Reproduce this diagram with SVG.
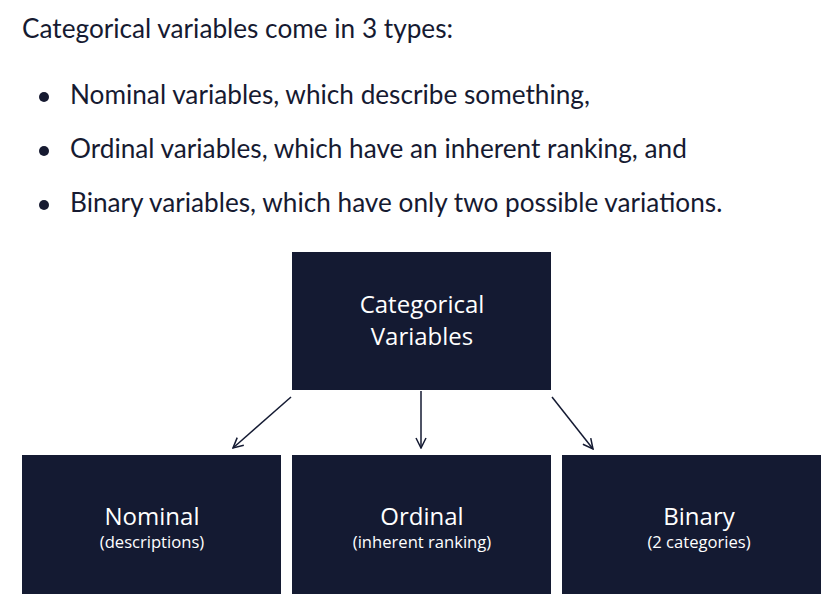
<svg xmlns="http://www.w3.org/2000/svg" width="838" height="612" viewBox="0 0 838 612">
<defs>
<style>
.intro{font-family:"Lato","Liberation Sans",sans-serif;font-size:26.2px;fill:#161a31}
.box{fill:#141a32}
.t1{font-family:"Open Sans","Liberation Sans",sans-serif;font-size:24px;fill:#ffffff;text-anchor:middle}
.t2{font-family:"Open Sans","Liberation Sans",sans-serif;font-size:16.6px;fill:#ffffff;text-anchor:middle}
.conn{stroke:#141a32;stroke-width:1.5;fill:none}
</style>
<marker id="arr" viewBox="0 0 12 12" refX="11" refY="6" markerWidth="12" markerHeight="12" markerUnits="userSpaceOnUse" orient="auto">
<path d="M1,1 L11,6 L1,11" fill="none" stroke="#141a32" stroke-width="1.5"/>
</marker>
</defs>
<rect width="838" height="612" fill="#ffffff"/>
<text class="intro" x="22" y="38">Categorical variables come in 3 types:</text>
<circle cx="44" cy="97" r="5" fill="#161a31"/>
<text class="intro" x="70" y="104">Nominal variables, which describe something,</text>
<circle cx="44" cy="151" r="5" fill="#161a31"/>
<text class="intro" x="70" y="158">Ordinal variables, which have an inherent ranking, and</text>
<circle cx="44" cy="205" r="5" fill="#161a31"/>
<text class="intro" x="70" y="212">Binary variables, which have only two possible variations.</text>
<g id="connectors">
<line class="conn" x1="291" y1="397" x2="233" y2="448" marker-end="url(#arr)"/>
<line class="conn" x1="421" y1="391" x2="421" y2="448" marker-end="url(#arr)"/>
<line class="conn" x1="552" y1="397" x2="593" y2="449" marker-end="url(#arr)"/>
</g>
<g id="categorical">
<rect class="box" x="292" y="252" width="259" height="138"/>
<text class="t1" x="422" y="313">Categorical</text>
<text class="t1" x="422" y="345">Variables</text>
</g>
<g id="nominal">
<rect class="box" x="22" y="455" width="259" height="139"/>
<text class="t1" x="152" y="525">Nominal</text>
<text class="t2" x="152" y="548">(descriptions)</text>
</g>
<g id="ordinal">
<rect class="box" x="292" y="455" width="259" height="139"/>
<text class="t1" x="422" y="525">Ordinal</text>
<text class="t2" x="422" y="548">(inherent ranking)</text>
</g>
<g id="binary">
<rect class="box" x="562" y="455" width="259" height="139"/>
<text class="t1" x="699" y="525">Binary</text>
<text class="t2" x="699" y="548">(2 categories)</text>
</g>
</svg>
